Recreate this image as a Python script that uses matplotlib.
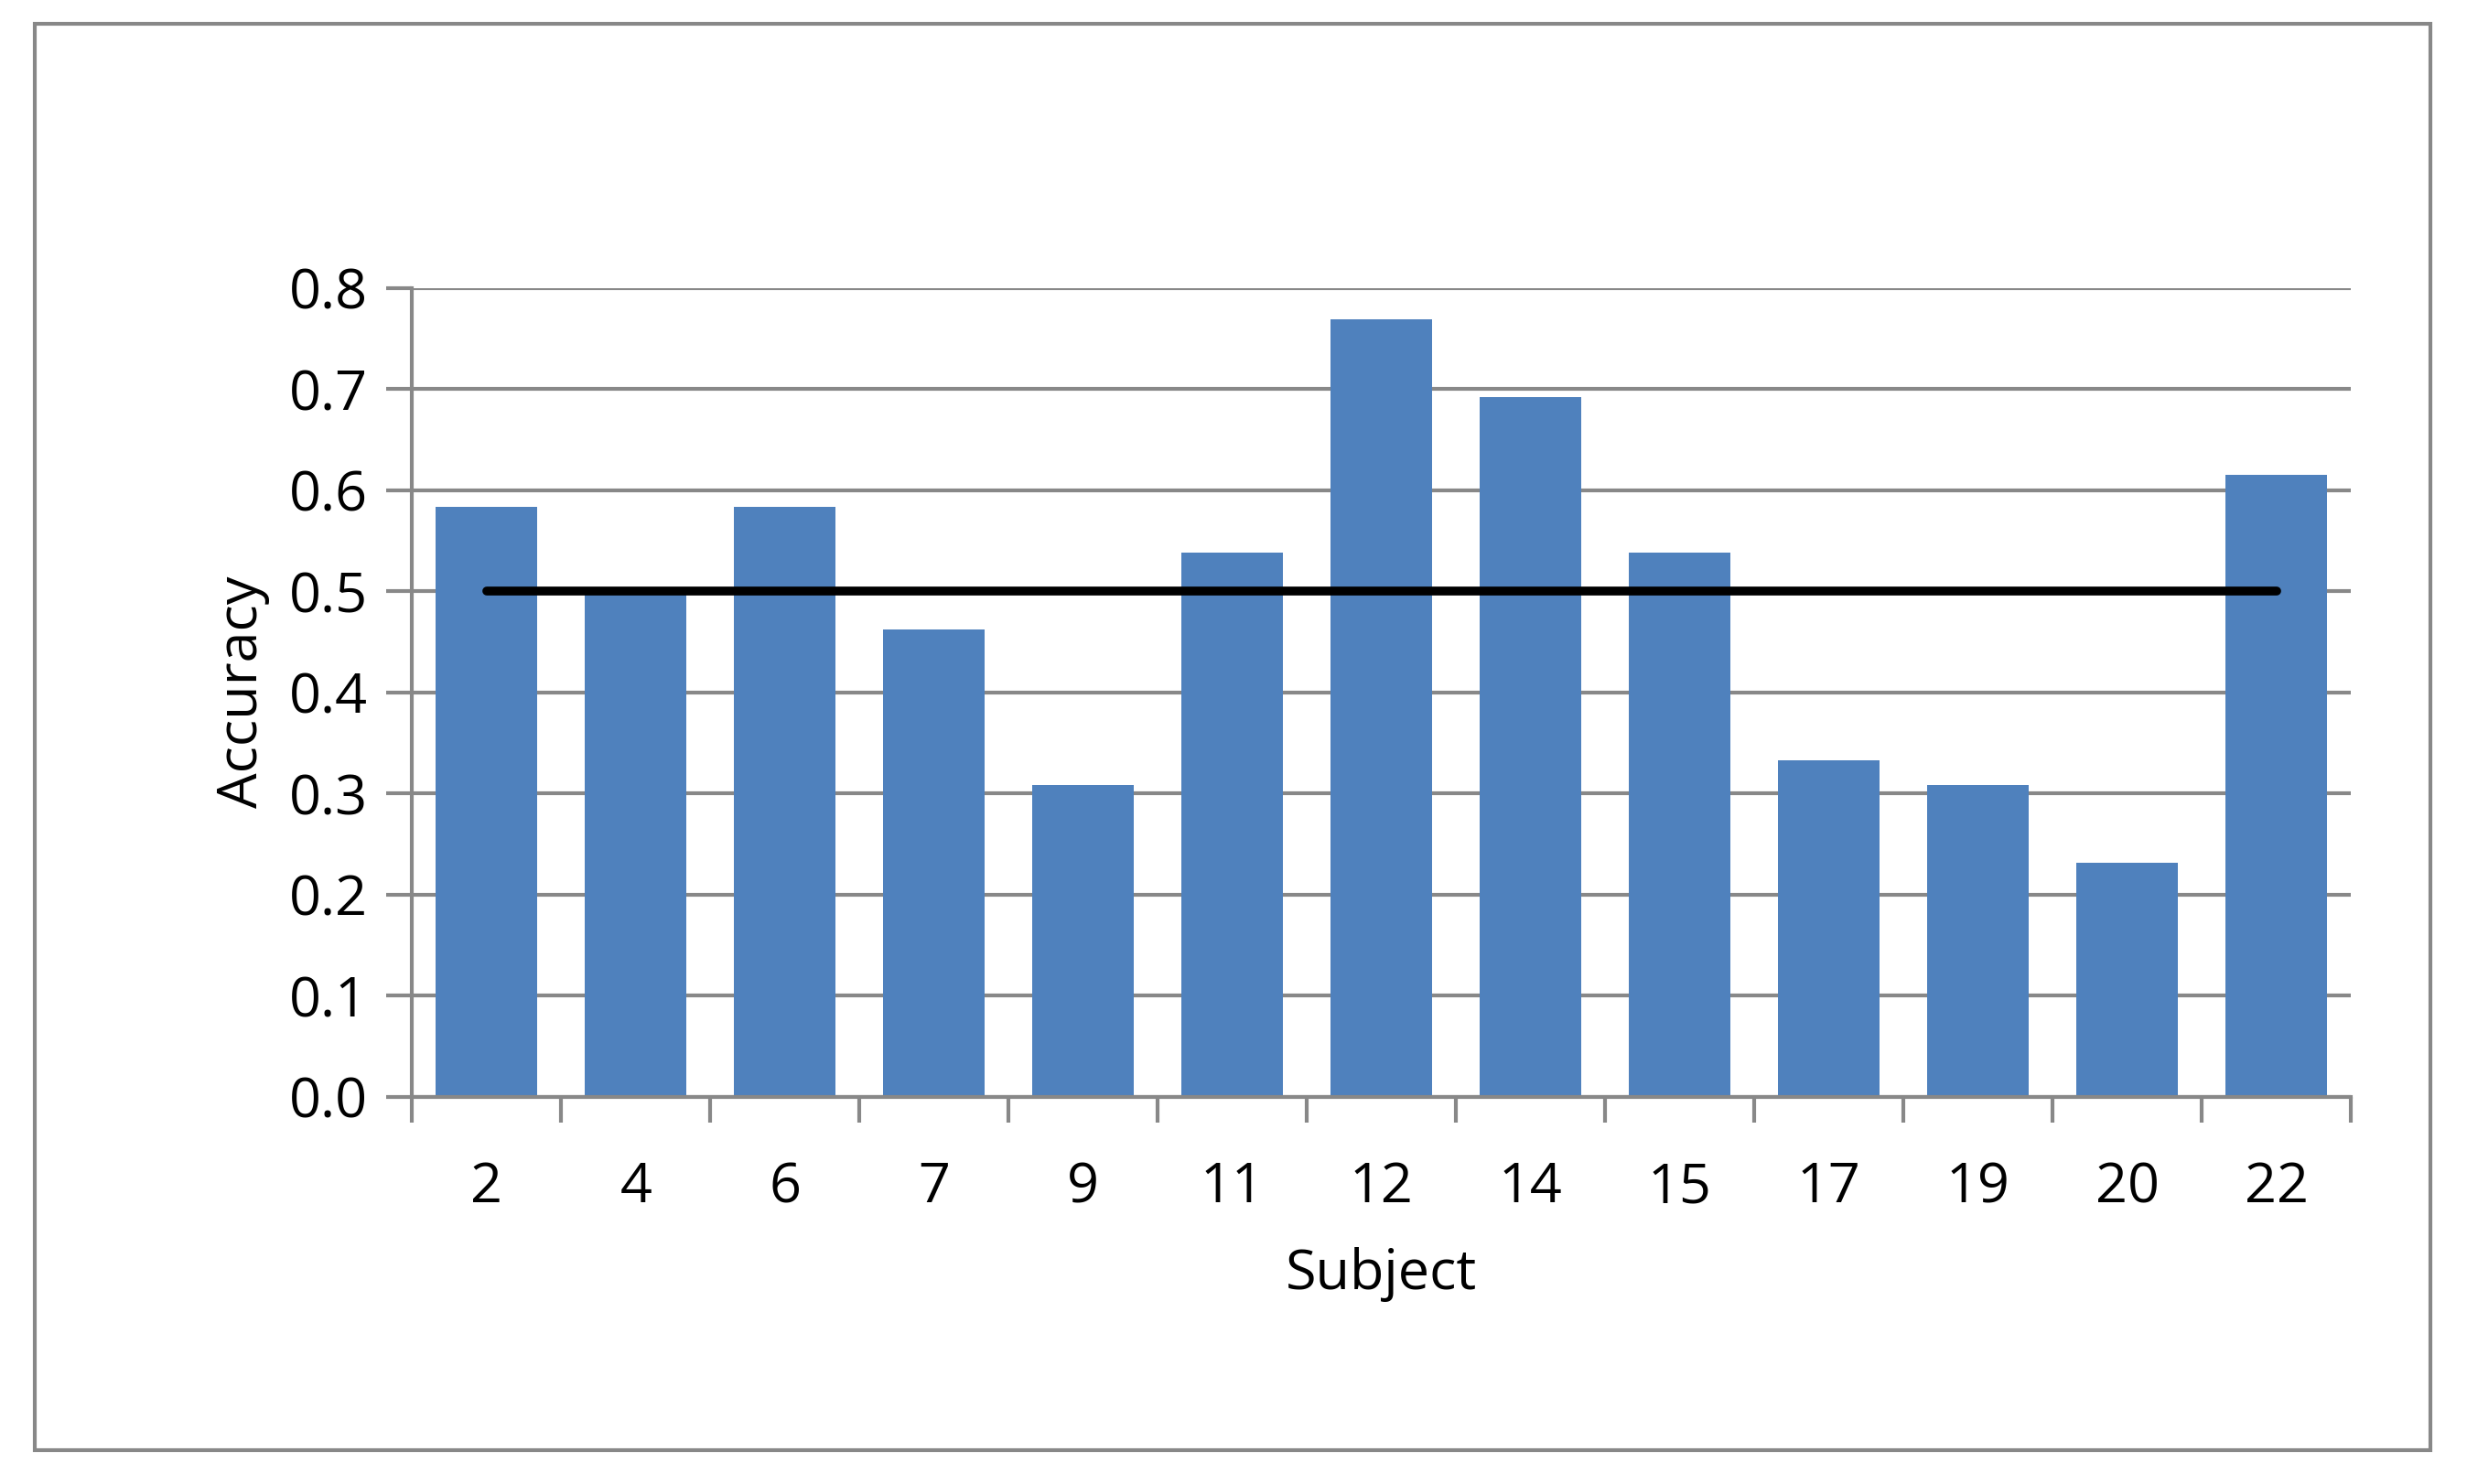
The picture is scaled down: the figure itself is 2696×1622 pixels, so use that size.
import matplotlib
matplotlib.use("Agg")
import matplotlib.pyplot as plt
from matplotlib.patches import Rectangle

subjects = ["2","4","6","7","9","11","12","14","15","17","19","20","22"]
accuracy = [0.583,0.5,0.583,0.462,0.308,0.538,0.769,0.692,0.538,0.333,0.308,0.231,0.615]
chance = 0.5

plt.rcParams['font.family'] = ['Open Sans', 'DejaVu Sans']
fig = plt.figure(figsize=(26.96,16.22), dpi=100)
fig.patches.append(Rectangle((0.014,0.023),0.971,0.961,transform=fig.transFigure,
                             fill=False,edgecolor='#888888',linewidth=3))
ax = fig.add_axes([0.167,0.261,0.786,0.545])
x = list(range(len(subjects)))
ax.bar(x, accuracy, width=0.68, color='#4F81BD', zorder=2)
ax.plot([x[0], x[-1]], [chance, chance], color='black', linewidth=7, solid_capstyle='round', zorder=3)
ax.set_xlim(-0.5, len(subjects)-0.5)
ax.set_ylim(0, 0.8)
ax.set_yticks([i/10 for i in range(9)])
ax.set_yticklabels([f"{i/10:.1f}" for i in range(9)], fontsize=44)
ax.yaxis.grid(True, color='#888888', linewidth=3, zorder=0)
ax.set_xticks(x)
ax.set_xticklabels(subjects, fontsize=44)
ax.set_xticks([i-0.5 for i in range(len(subjects)+1)], minor=True)
ax.tick_params(axis='x', which='major', length=0, pad=50)
ax.tick_params(axis='x', which='minor', length=20, width=3, color='#888888', direction='out')
ax.tick_params(axis='y', length=20, width=3, color='#888888', direction='in', pad=15)
ax.tick_params(axis='y', direction='out')
for s in ['top','right']:
    ax.spines[s].set_visible(False)
for s in ['left','bottom']:
    ax.spines[s].set_color('#888888'); ax.spines[s].set_linewidth(3)
ax.set_xlabel("Subject", fontsize=44, labelpad=25)
ax.set_ylabel("Accuracy", fontsize=44, labelpad=15)
fig.savefig("out.png", dpi=100)
